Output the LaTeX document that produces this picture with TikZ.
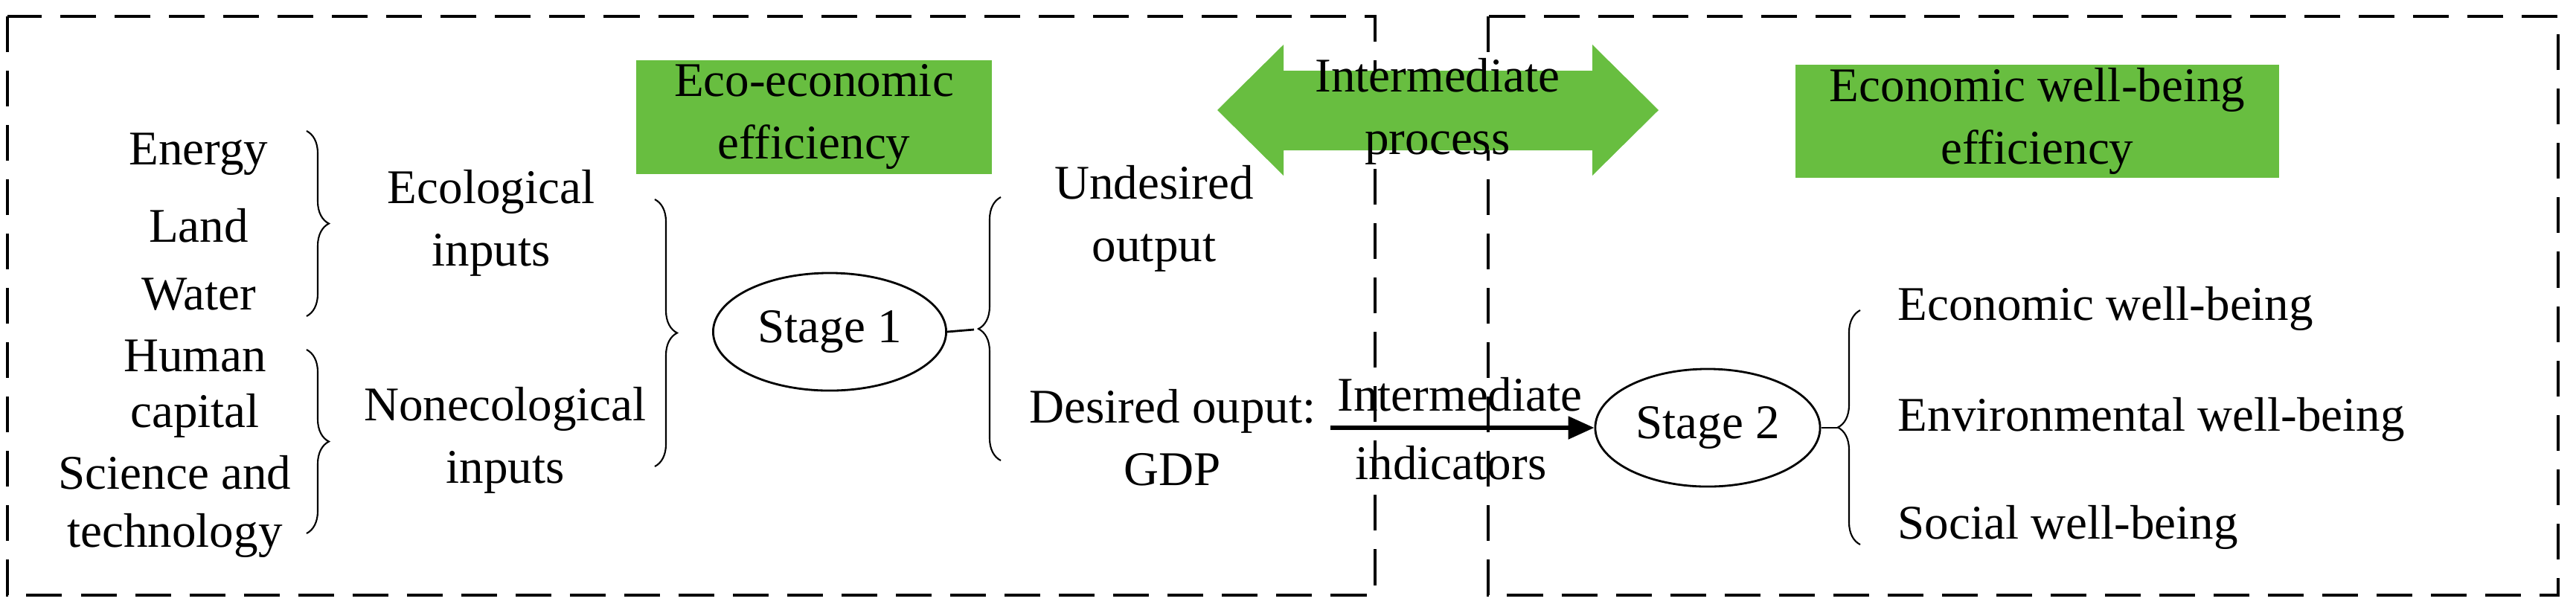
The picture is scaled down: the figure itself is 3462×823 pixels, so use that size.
\documentclass[tikz,border=0pt]{standalone}
\usepackage{fontspec}
\setmainfont{Liberation Serif}
\usetikzlibrary{shapes.geometric,shapes.arrows,decorations.pathreplacing,arrows.meta}
\definecolor{grn}{RGB}{104,190,64}
\begin{document}
\begin{tikzpicture}[x=0.01cm,y=-0.01cm,
  every node/.style={font=\fontsize{18.5}{24}\selectfont, align=center, inner sep=0pt},
  frame/.style={draw, line width=1.4pt, dash pattern=on 0.48cm off 0.25cm},
  gbox/.style={fill=grn, draw=none},
  brc/.style={decorate, decoration={brace, amplitude=0.3cm}, line width=0.6pt},
  stage/.style={draw, ellipse, line width=0.8pt},
  conn/.style={line width=0.8pt}]
\useasboundingbox (0,0) rectangle (3462,823);
\draw[frame] (10,22) rectangle (1848,800);
\draw[frame] (2000,22) rectangle (3438,800);
% green boxes
\fill[gbox] (855,81) rectangle (1333,234);
\node (eco) at (1094,157) {Eco-economic\\efficiency};
\fill[gbox] (2413,87) rectangle (3063,239);
\node (ewb) at (2738,163) {Economic well-being\\efficiency};
% double arrow
\fill[grn] (1636,148) -- (1725,60) -- (1725,95) -- (2140,95) -- (2140,60) -- (2229,148) -- (2140,236) -- (2140,202) -- (1725,202) -- (1725,236) -- cycle;
\node (ip) at (1932,150) {Intermediate\\process};
% left inputs
\node (energy) at (267,207) {Energy};
\node (land) at (267,303) {Land};
\node (water) at (267,396) {Water};
\node (human) at (262,478) {Human};
\node (capital) at (262,559) {capital};
\node (sci) at (235,635) {Science and};
\node (tech) at (235,720) {technology};
\coordinate (b1a) at (412,176); \coordinate (b1b) at (412,425);
\draw[brc] (b1a) -- (b1b);
\coordinate (b2a) at (412,470); \coordinate (b2b) at (412,717);
\draw[brc] (b2a) -- (b2b);
\node (ecoin) at (660,300) {Ecological\\inputs};
\node (necoin) at (679,592) {Nonecological\\inputs};
\coordinate (b3a) at (880,268); \coordinate (b3b) at (880,627);
\draw[brc] (b3a) -- (b3b);
\node[stage, minimum width=3.13cm, minimum height=1.58cm] (s1) at (1115,446) {Stage 1};
\coordinate (b4a) at (1345,619); \coordinate (b4b) at (1345,265);
\draw[brc] (b4a) -- (b4b);
\draw[conn] (s1.east) -- (1309,443);
\node (und) at (1551,294) {Undesired\\output};
\node (des) at (1576,588) {Desired ouput:\\GDP};
% stage 2
\node[stage, minimum width=3.02cm, minimum height=1.58cm] (s2) at (2295,575) {Stage 2};
\coordinate (arrs) at (1788,575);
\draw[line width=1.6pt, -{Triangle[length=0.35cm,width=0.3cm]}] (arrs) -- (s2.west);
\node (int) at (1962,530) {Intermediate};
\node (ind) at (1950,622) {indicators};
\coordinate (b5a) at (2500,732); \coordinate (b5b) at (2500,417);
\draw[brc] (b5a) -- (b5b);
\draw[conn] (s2.east) -- (2470,575);
\node[anchor=west] (e1) at (2550,415) {Economic well-being};
\node[anchor=west] (e2) at (2550,564) {Environmental well-being};
\node[anchor=west] (e3) at (2550,709) {Social well-being};
\end{tikzpicture}
\end{document}
